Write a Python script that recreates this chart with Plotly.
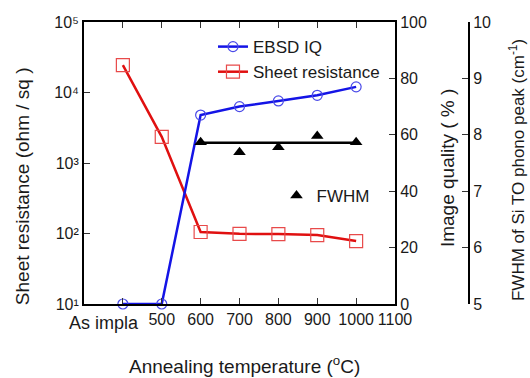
import plotly.graph_objects as go

# ---- data ----
x_labels = ["", "500", "600", "700", "800", "900", "1000", "1100"]
first_label = "As impla"
x_ticks = [400, 500, 600, 700, 800, 900, 1000, 1100]
x_pos = [400, 500, 600, 700, 800, 900, 1000]

sheet_res = [24500, 2350, 105, 99, 98, 95, 78]
ebsd_iq = [0, 0, 67, 70, 72, 74, 77]

fwhm_x = [600, 700, 800, 900, 1000]
fwhm = [7.87, 7.69, 7.78, 7.98, 7.87]
fwhm_fit_x = [600, 1000]
fwhm_fit = [7.86, 7.86]

log_ticks = [10, 100, 1000, 10000, 100000]
log_text = ["10\u00b9", "10\u00b2", "10\u00b3", "10\u2074", "10\u2075"]

FONT = "Liberation Sans, Arial, sans-serif"
TXT = "#1a1a1a"

fig = go.Figure()

fig.add_trace(go.Scatter(
    x=x_pos, y=ebsd_iq, yaxis="y2", name="EBSD IQ", mode="lines+markers",
    line=dict(color="#1414e6", width=2.5),
    marker=dict(symbol="circle-open", size=10, color="#4a4ae8", line=dict(width=1.2)),
    cliponaxis=False, legend="legend",
))
fig.add_trace(go.Scatter(
    x=x_pos, y=sheet_res, yaxis="y", name="Sheet resistance", mode="lines+markers",
    line=dict(color="#e01010", width=2.5),
    marker=dict(symbol="square-open", size=13, color="#e84a4a", line=dict(width=1.2)),
    cliponaxis=False, legend="legend",
))
fig.add_trace(go.Scatter(
    x=fwhm_fit_x, y=fwhm_fit, yaxis="y3", mode="lines", showlegend=False,
    line=dict(color="black", width=2.5), hoverinfo="skip",
))
fig.add_trace(go.Scatter(
    x=fwhm_x, y=fwhm, yaxis="y3", name="FWHM", mode="markers",
    marker=dict(symbol="triangle-up", size=11, color="black"),
    cliponaxis=False, legend="legend2",
))

axis_common = dict(showgrid=False, zeroline=False, showline=True, linecolor="black",
                   linewidth=2, ticks="inside", ticklen=6, tickcolor="#333", tickwidth=1,
                   tickfont=dict(family=FONT, size=16, color=TXT))

title_font = dict(family=FONT, size=19, color=TXT)

fig.update_layout(
    width=530, height=378,
    margin=dict(l=84, r=61, t=22, b=74),
    paper_bgcolor="white", plot_bgcolor="white",
    font=dict(family=FONT, color=TXT),
    xaxis=dict(domain=[0, 0.8078], range=[300, 1100], tickvals=x_ticks, ticktext=x_labels,
               mirror="ticks", tickangle=0, **axis_common),
    yaxis=dict(type="log", range=[1, 5], tickvals=log_ticks, ticktext=log_text,
               **axis_common),
    yaxis2=dict(overlaying="y", side="right", anchor="x", range=[0, 100], dtick=20,
                **axis_common),
    yaxis3=dict(overlaying="y", side="right", anchor="free", position=1.0, range=[5, 10], dtick=1,
                **axis_common),
    legend=dict(x=0.335, y=0.975, xanchor="left", yanchor="top", bgcolor="rgba(255,255,255,0)",
                font=dict(family=FONT, size=17, color=TXT), tracegroupgap=0),
    legend2=dict(x=0.5, y=0.447, xanchor="left", yanchor="top", bgcolor="white",
                 font=dict(family=FONT, size=17, color=TXT)),
    showlegend=True,
    annotations=[
        dict(text=first_label, xref="paper", yref="paper",
             x=(104 - 84) / 385, y=-(323 - 304) / 282, xanchor="center", yanchor="middle",
             showarrow=False, font=dict(family=FONT, size=18, color=TXT)),
        dict(text="Annealing temperature (<sup>o</sup>C)", xref="paper", yref="paper",
             x=0.417, y=-0.216, xanchor="center", yanchor="middle", showarrow=False, font=title_font),
        dict(text="Sheet resistance (ohm / sq )", xref="paper", yref="paper",
             x=-0.161, y=0.418, xanchor="center", yanchor="middle", textangle=-90, showarrow=False, font=title_font),
        dict(text="Image quality ( % )", xref="paper", yref="paper",
             x=(447 - 84) / 385, y=0.482, xanchor="center", yanchor="middle", textangle=-90, showarrow=False, font=title_font),
        dict(text="FWHM of Si TO phono peak (cm<sup>-1</sup>)", xref="paper", yref="paper",
             x=(517 - 84) / 385, y=0.475, xanchor="center", yanchor="middle", textangle=-90, showarrow=False,
             font=dict(family=FONT, size=17, color=TXT)),
    ],
)

fig.write_html("out.html")
